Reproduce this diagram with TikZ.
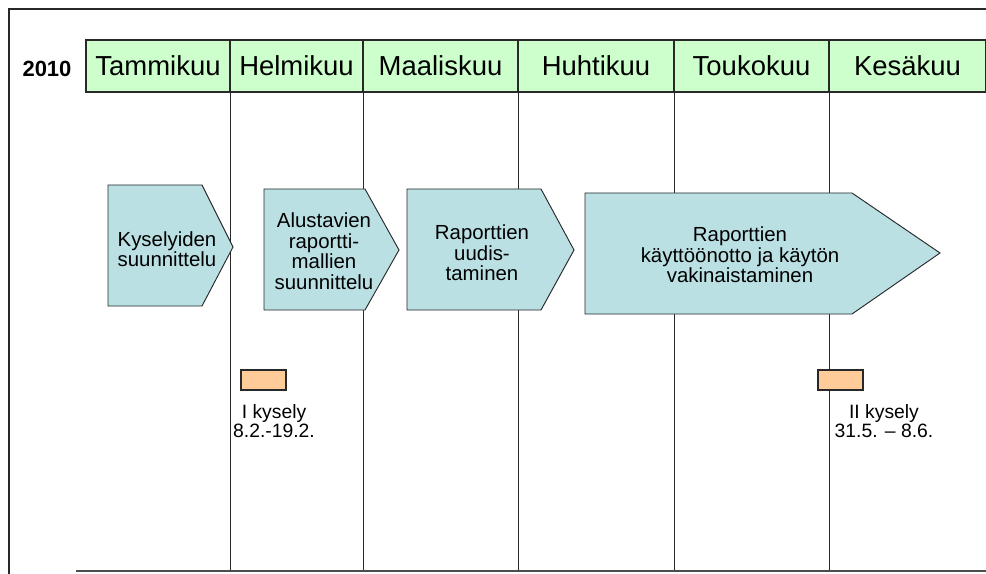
\documentclass[tikz,border=0pt]{standalone}
\usepackage{fontspec}
\setmainfont{Liberation Sans}
\definecolor{hdrgreen}{RGB}{204,255,204}
\definecolor{teal}{RGB}{186,224,227}
\definecolor{peach}{RGB}{255,204,153}
\definecolor{edge}{RGB}{40,40,40}
\begin{document}
\begin{tikzpicture}[x=0.75pt,y=-0.75pt,
  cell/.style={draw=edge,fill=hdrgreen,line width=0.8pt,minimum height=39pt,inner sep=0pt,
    font=\fontsize{20.6}{22}\selectfont},
  vline/.style={draw=edge,line width=0.8pt},
  frame/.style={draw=edge,line width=0.8pt},
  phase/.style={draw=edge,fill=teal,line width=0.7pt,line join=miter},
  ptext/.style={align=center,inner sep=0pt,font=\fontsize{15.3}{15.4}\selectfont},
  qbox/.style={draw=edge,fill=peach,line width=0.8pt,minimum width=33.75pt,minimum height=15pt,inner sep=0pt},
  lbl/.style={align=center,inner sep=0pt,font=\fontsize{14.5}{14.5}\selectfont}]
\useasboundingbox (0,0) rectangle (986,574);
% frame
\coordinate (ftl) at (9,9);
\coordinate (ftr) at (986,9);
\coordinate (fbl) at (9,574);
\draw[frame] (ftr) -- (ftl) -- (fbl);
\coordinate (bl) at (76,571);
\coordinate (br) at (986,571);
% year
\node[font=\fontsize{16.5}{16.5}\selectfont\bfseries,anchor=base,inner sep=0pt] (year) at (47,77) {2010};
% header cells
\node[cell,minimum width=108pt]   (m1) at (158,66)   {Tammikuu};
\node[cell,minimum width=99.75pt] (m2) at (296.5,66) {Helmikuu};
\node[cell,minimum width=116.25pt](m3) at (440.5,66) {Maaliskuu};
\node[cell,minimum width=117pt]   (m4) at (596,66)   {Huhtikuu};
\node[cell,minimum width=116.25pt](m5) at (751.5,66) {Toukokuu};
\node[cell,minimum width=117pt]   (m6) at (907.5,66) {Kesäkuu};
% vertical lines
\foreach \m in {m1,m2,m3,m4,m5}
  \draw[vline] (\m.south east) -- (\m.south east |- bl);
% bottom line
\draw[draw=black!70,line width=1.3pt] (bl) -- (br);
% phases
\draw[phase] (108,185) -- (202,185) -- (233,247) -- (202,306) -- (108,306) -- cycle;
\node[ptext] (p1) at (167,249) {Kyselyiden\\suunnittelu};
\draw[phase] (264,189) -- (365,189) -- (399,250) -- (365,310) -- (264,310) -- cycle;
\node[ptext] (p2) at (324,251) {Alustavien\\raportti-\\mallien\\suunnittelu};
\draw[phase] (407,189) -- (541,189) -- (574,250) -- (541,310) -- (407,310) -- cycle;
\node[ptext] (p3) at (482,253) {Raporttien\\uudis-\\taminen};
\draw[phase] (585,193) -- (852,193) -- (940,253) -- (852,314) -- (585,314) -- cycle;
\node[ptext] (p4) at (740,255) {Raporttien\\käyttöönotto ja käytön\\vakinaistaminen};
% surveys
\node[qbox] (q1) at (263.5,380) {};
\node[lbl] (l1) at (274,421) {I kysely\\8.2.-19.2.};
\node[qbox] (q2) at (840.5,380) {};
\node[lbl] (l2) at (884,421) {II kysely\\31.5. – 8.6.};
\end{tikzpicture}
\end{document}
